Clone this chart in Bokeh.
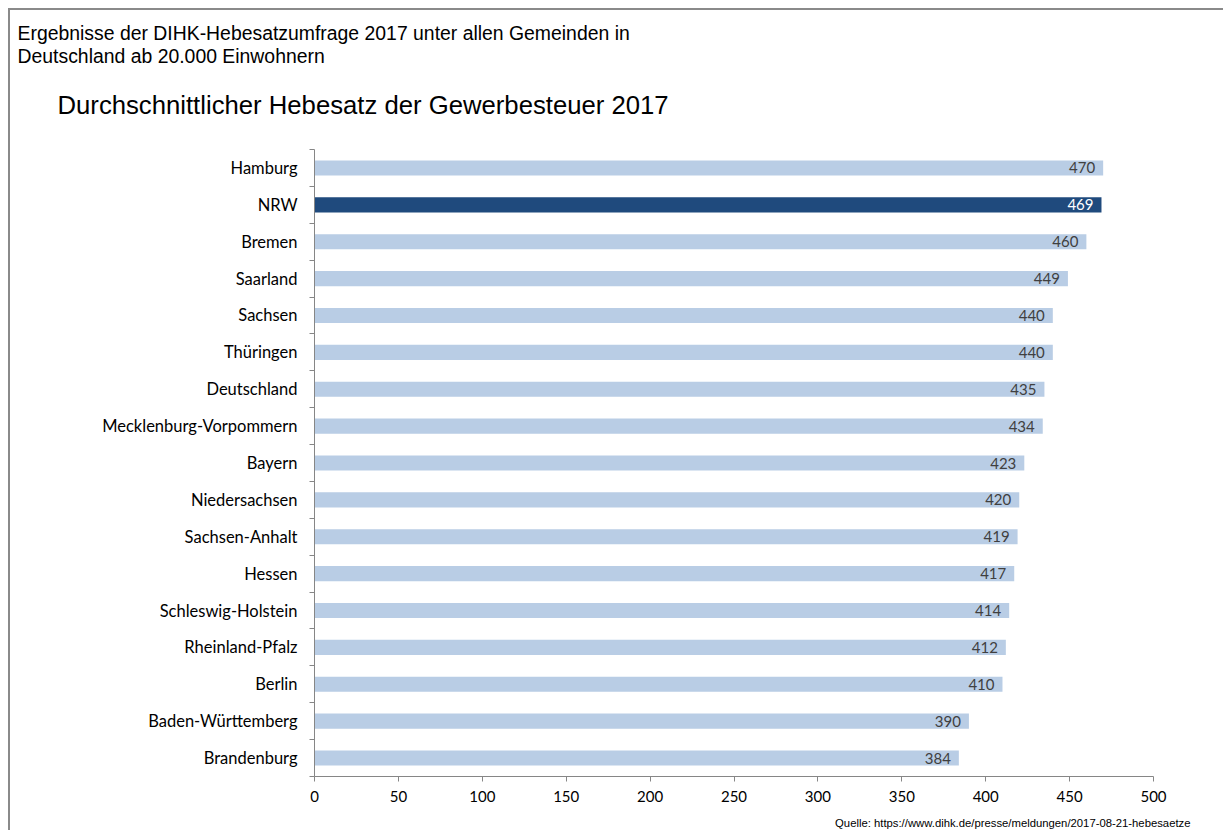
from bokeh.plotting import figure
from bokeh.models import Title, FixedTicker, ColumnDataSource, Range1d
from bokeh.embed import file_html
from bokeh.resources import INLINE
from bokeh.core.properties import value

# ---- data ----
states = ["Hamburg", "NRW", "Bremen", "Saarland", "Sachsen", "Thüringen",
          "Deutschland", "Mecklenburg-Vorpommern", "Bayern", "Niedersachsen",
          "Sachsen-Anhalt", "Hessen", "Schleswig-Holstein", "Rheinland-Pfalz",
          "Berlin", "Baden-Württemberg", "Brandenburg"]
rates = [470, 469, 460, 449, 440, 440, 435, 434, 423, 420, 419, 417, 414,
         412, 410, 390, 384]
highlight = "NRW"
x_ticks = [0, 50, 100, 150, 200, 250, 300, 350, 400, 450, 500]

subtitle_1 = "Ergebnisse der DIHK-Hebesatzumfrage 2017 unter allen Gemeinden in"
subtitle_2 = "Deutschland ab 20.000 Einwohnern"
main_title = "Durchschnittlicher Hebesatz der Gewerbesteuer 2017"
source_note = "Quelle: https://www.dihk.de/presse/meldungen/2017-08-21-hebesaetze"

# ---- derived ----
n = len(states)
pos = [n - 1 - i for i in range(n)]
light, dark = "#B9CDE5", "#1F4A7D"
colors = [dark if s == highlight else light for s in states]
label_colors = ["#FFFFFF" if s == highlight else "#404040" for s in states]
labels = [str(v) for v in rates]

src = ColumnDataSource(dict(y=pos, v=rates, c=colors, lc=label_colors, t=labels))

p = figure(frame_width=839, frame_height=627,
           x_range=Range1d(0, 500), y_range=Range1d(-0.5, n - 0.5),
           output_backend="svg", toolbar_location=None,
           min_border_left=304, min_border_right=70, min_border_bottom=40,
           min_border_top=139,
           margin=(8, 0, 0, 8),
           styles={"border-top": "2px solid #8A8A8A", "border-left": "2px solid #8A8A8A"},
           title=subtitle_1)
p.outline_line_color = None
p.grid.visible = False
p.background_fill_color = "white"
p.border_fill_color = "white"

p.hbar(y="y", right="v", left=0, height=0.41, fill_color="c", line_color=None, source=src)
p.text(x="v", y="y", text="t", text_color="lc", x_offset=-8,
       text_align="right", text_baseline="middle",
       text_font=value("Lato"), text_font_size="15px", source=src)

# titles: p.title is outermost; first added layout sits closest to the plot
p.title.text_font = "Liberation Sans"
p.title.text_font_size = "19.4px"
p.title.text_font_style = "normal"
p.title.text_color = "#000000"
p.title.align = "left"
p.title.vertical_align = "bottom"
p.title.offset = -297
p.title.standoff = 8

t_main = Title(text=main_title, text_font="Liberation Sans", text_font_size="25.7px",
               text_font_style="normal", text_color="#000000", align="left",
               vertical_align="top", offset=-257, standoff=58)
p.add_layout(t_main, "above")
t_sub2 = Title(text=subtitle_2, text_font="Liberation Sans", text_font_size="19.4px",
               text_font_style="normal", text_color="#000000", align="left",
               vertical_align="bottom", offset=-297, standoff=-10)
p.add_layout(t_sub2, "above")

note = Title(text=source_note, text_font="Liberation Sans", text_font_size="11.3px",
             text_font_style="normal", text_color="#000000", align="right",
             vertical_align="top", offset=-37, standoff=0)
p.add_layout(note, "below")

# x axis
xa = p.xaxis[0]
xa.ticker = FixedTicker(ticks=x_ticks, minor_ticks=[])
xa.axis_line_color = "#868686"
xa.major_tick_line_color = "#868686"
xa.major_tick_in = 0
xa.major_tick_out = 5
xa.minor_tick_line_color = None
xa.major_label_text_font = "Lato"
xa.major_label_text_font_size = "15px"
xa.major_label_text_color = "#000000"
xa.major_label_standoff = 9
xa.axis_label = " "
xa.axis_label_text_font_size = "8px"
xa.axis_label_standoff = 0

# y axis
ya = p.yaxis[0]
ya.ticker = FixedTicker(ticks=pos, minor_ticks=[k - 0.5 for k in range(n + 1)])
ya.major_label_overrides = {pt: s for pt, s in zip(pos, states)}
ya.axis_line_color = "#868686"
ya.major_tick_line_color = None
ya.major_tick_in = 0
ya.major_tick_out = 0
ya.minor_tick_line_color = "#868686"
ya.minor_tick_in = 0
ya.minor_tick_out = 5
ya.major_label_text_font = "Lato"
ya.major_label_text_font_size = "16.5px"
ya.major_label_text_color = "#000000"
ya.major_label_standoff = 12

open("out.html", "w").write(file_html(p, INLINE))
